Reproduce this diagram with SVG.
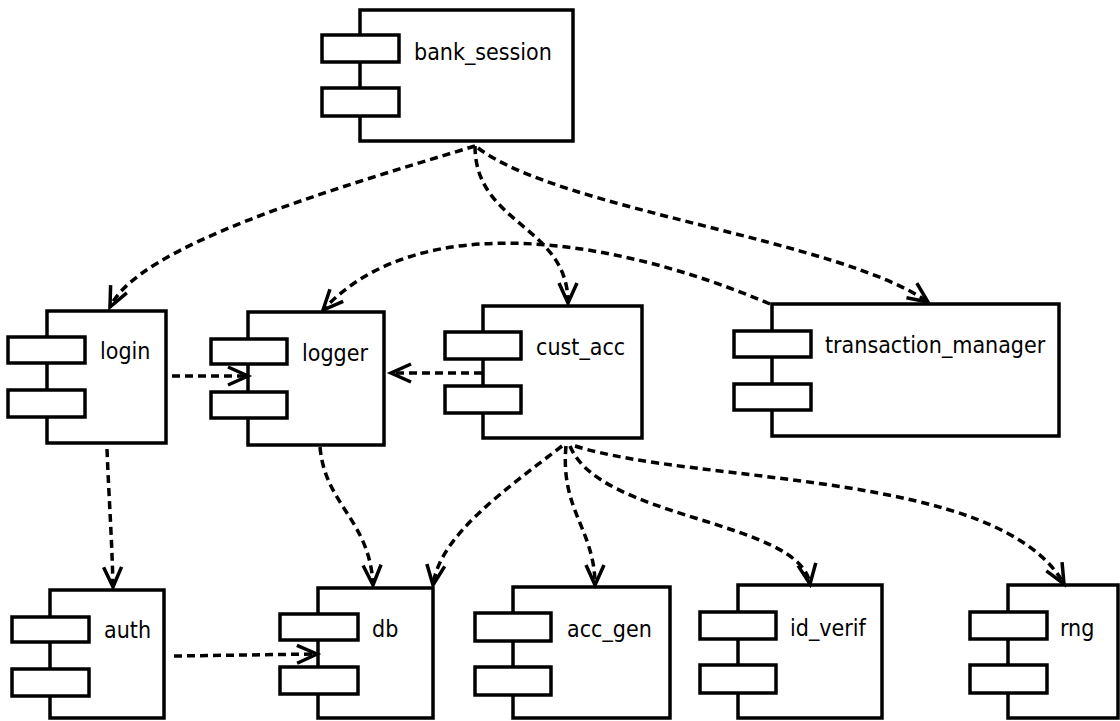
<svg xmlns="http://www.w3.org/2000/svg" width="1120" height="721" viewBox="0 0 1120 721">
  <style>
    .body { fill: #fff; stroke: #000; stroke-width: 3.5; }
    .port { fill: #fff; stroke: #000; stroke-width: 3.5; }
    .label { font-family: "DejaVu Sans Condensed", "DejaVu Sans", sans-serif; font-size: 23px; fill: #000; }
    .dep { fill: none; stroke: #000; stroke-width: 3.5; stroke-dasharray: 8 5; marker-end: url(#open); }
  </style>
  <defs>
    <marker id="open" viewBox="-24 -12 28 24" markerWidth="28" markerHeight="24" refX="0" refY="0" orient="auto" markerUnits="userSpaceOnUse" overflow="visible">
      <path d="M-20,-9 L0,0 L-20,9" fill="none" stroke="#000" stroke-width="3.5"/>
    </marker>
  </defs>
  <rect width="1120" height="721" fill="#fff"/>

  <g id="bank_session">
    <rect class="body" x="360" y="10" width="213" height="131"/>
    <rect class="port" x="322" y="35" width="77" height="27"/>
    <rect class="port" x="322" y="88" width="77" height="28"/>
    <text class="label" x="414" y="60">bank_session</text>
  </g>

  <g id="login">
    <rect class="body" x="47" y="311" width="119" height="132"/>
    <rect class="port" x="8" y="337" width="77" height="26"/>
    <rect class="port" x="8" y="390" width="77" height="27"/>
    <text class="label" x="100" y="359">login</text>
  </g>

  <g id="logger">
    <rect class="body" x="248" y="312" width="136" height="133"/>
    <rect class="port" x="211" y="339" width="76" height="25"/>
    <rect class="port" x="211" y="392" width="76" height="26"/>
    <text class="label" x="302" y="361">logger</text>
  </g>

  <g id="cust_acc">
    <rect class="body" x="483" y="306" width="159" height="132"/>
    <rect class="port" x="445" y="332" width="76" height="27"/>
    <rect class="port" x="445" y="386" width="76" height="27"/>
    <text class="label" x="536" y="355">cust_acc</text>
  </g>

  <g id="transaction_manager">
    <rect class="body" x="772" y="304" width="287" height="132"/>
    <rect class="port" x="734" y="331" width="77" height="26"/>
    <rect class="port" x="734" y="384" width="77" height="26"/>
    <text class="label" x="825" y="353">transaction_manager</text>
  </g>

  <g id="auth">
    <rect class="body" x="50" y="590" width="114" height="128"/>
    <rect class="port" x="12" y="617" width="77" height="25"/>
    <rect class="port" x="12" y="669" width="77" height="27"/>
    <text class="label" x="104" y="638">auth</text>
  </g>

  <g id="db">
    <rect class="body" x="318" y="588" width="115" height="130"/>
    <rect class="port" x="280" y="614" width="78" height="26"/>
    <rect class="port" x="280" y="667" width="78" height="27"/>
    <text class="label" x="372" y="637">db</text>
  </g>

  <g id="acc_gen">
    <rect class="body" x="513" y="587" width="157" height="131"/>
    <rect class="port" x="475" y="613" width="76" height="28"/>
    <rect class="port" x="475" y="667" width="76" height="28"/>
    <text class="label" x="567" y="637">acc_gen</text>
  </g>

  <g id="id_verif">
    <rect class="body" x="738" y="585" width="144" height="133"/>
    <rect class="port" x="700" y="612" width="76" height="27"/>
    <rect class="port" x="700" y="665" width="76" height="28"/>
    <text class="label" x="790" y="636">id_verif</text>
  </g>

  <g id="rng">
    <rect class="body" x="1008" y="585" width="110" height="133"/>
    <rect class="port" x="970" y="612" width="77" height="27"/>
    <rect class="port" x="970" y="665" width="77" height="28"/>
    <text class="label" x="1060" y="636">rng</text>
  </g>

  <g id="connectors">
    <path class="dep" d="M475,146 C330,190 140,245 110,307"/>
    <path class="dep" d="M475,146 C475,225 568,225 568,303"/>
    <path class="dep" d="M478,148 C560,210 840,240 928,302"/>
    <path class="dep" d="M770,304 C620,240 420,205 323,310"/>
    <path class="dep" d="M172,376 L248,376"/>
    <path class="dep" d="M482,373 L391,373"/>
    <path class="dep" d="M107,449 C109,500 112,540 113,587"/>
    <path class="dep" d="M320,447 C325,505 370,520 373,585"/>
    <path class="dep" d="M174,656 L317,654"/>
    <path class="dep" d="M562,446 C505,490 440,535 433,585"/>
    <path class="dep" d="M566,446 C560,510 595,530 595,585"/>
    <path class="dep" d="M570,446 C600,520 800,520 810,584"/>
    <path class="dep" d="M575,446 C700,485 1000,470 1064,584"/>
  </g>
</svg>
